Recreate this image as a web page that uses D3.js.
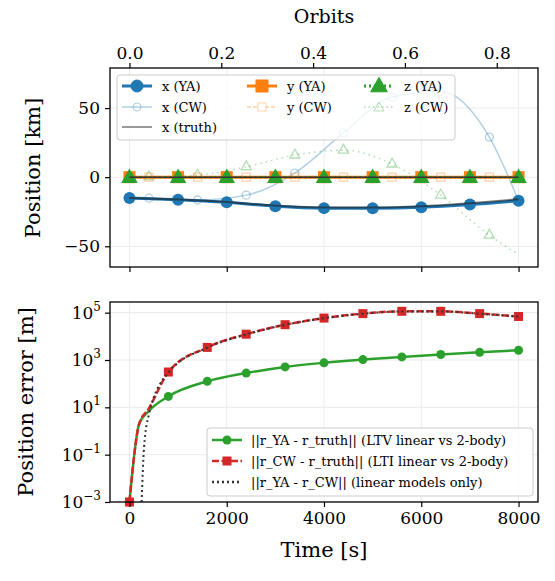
<!DOCTYPE html><html><head><meta charset="utf-8">
<script src="https://cdn.jsdelivr.net/npm/d3@7"></script>
<style>body{margin:0;background:#fff}text{font-family:"DejaVu Serif",serif}</style></head><body>
<svg id="c" width="555" height="581"></svg>
<script>
// --- data ---
const tYA = [0,1000,2000,3000,4000,5000,6000,7000,8000];
const xYA = [-15,-16.3,-18.2,-21,-22.4,-22.5,-21.8,-19.8,-17];
const xTruth = [-15,-16.2,-18,-20.6,-22,-22,-21,-18.8,-16];
const tCWline = [0,400,1400,2400,3400,4400,5400,6400,7400,8000];
const xCWline = [-15,-15.2,-16.5,-13,3,32,58,62,29,-17];
const zCWline = [0,0.3,1.5,7.5,16,19.5,9.5,-13,-42,-56];
const tCWmark = [400,1400,2400,3400,4400,5400,6400,7400];
const xCW = [-15.2,-16.5,-13,3,32,58,62,29];
const zCW = [0.3,1.5,7.5,16,19.5,9.5,-13,-42];
const tErr = [0,200,400,800,1600,2400,3200,4000,4800,5600,6400,7200,8000];
const errYA = [1e-3,2,7,29,125,280,510,760,1040,1350,1700,2100,2570];
const errCW = [1e-3,2,9,310,3400,12300,31000,59000,91000,114000,114000,91000,69000];
const tDiff = [250,300,400,800,1600,2400,3200,4000,4800,5600,6400,7200,8000];
const errDiff = [1e-3,0.2,5,290,3300,12000,30500,58000,90000,113000,113000,90000,68000];
const orbitTicks = [0,0.2,0.4,0.6,0.8];
const period = 9440;

const svg = d3.select("#c");
const L=110,R=538;
const x = d3.scaleLinear().domain([-400,8400]).range([L,R]);
const y1 = d3.scaleLinear().domain([-65,79]).range([267,68]);
const y2 = d3.scaleLog().domain([1e-3,10**5.45]).range([502,302]);

function grid(y,ticks,y0,y9){
  const g=svg.append("g");
  [0,2000,4000,6000,8000].forEach(t=>g.append("line").attr("x1",x(t)).attr("x2",x(t)).attr("y1",y0).attr("y2",y9).attr("stroke","#ebebeb"));
  ticks.forEach(v=>g.append("line").attr("x1",L).attr("x2",R).attr("y1",y(v)).attr("y2",y(v)).attr("stroke","#ebebeb"));
}
grid(y1,[-50,0,50],68,267);
grid(y2,[1e-3,1e-1,10,1e3,1e5],302,502);

const c = {b:"#1f77b4",o:"#ff7f0e",g:"#2ca02c",r:"#d62728"};
const line=(ys,ts,ysc)=>d3.line().x((d,i)=>x(ts[i])).y(d=>ysc(d)).curve(d3.curveMonotoneX)(ys);

// top chart
const gt=svg.append("g");
gt.append("path").attr("d",line(xCWline,tCWline,y1)).attr("fill","none").attr("stroke",c.b).attr("stroke-opacity",0.35).attr("stroke-width",1.5);
tCWmark.forEach((t,i)=>gt.append("circle").attr("cx",x(t)).attr("cy",y1(xCW[i])).attr("r",4).attr("fill","none").attr("stroke",c.b).attr("stroke-opacity",0.35).attr("stroke-width",1.3));
gt.append("path").attr("d",line(zCWline,tCWline,y1)).attr("fill","none").attr("stroke",c.g).attr("stroke-opacity",0.35).attr("stroke-width",1.5).attr("stroke-dasharray","1.5,4");
tCWmark.forEach((t,i)=>gt.append("path").attr("d",d3.symbol().type(d3.symbolTriangle).size(45)()).attr("transform",`translate(${x(t)},${y1(zCW[i])})`).attr("fill","none").attr("stroke",c.g).attr("stroke-opacity",0.35).attr("stroke-width",1.3));
gt.append("line").attr("x1",x(0)).attr("x2",x(8000)).attr("y1",y1(0)).attr("y2",y1(0)).attr("stroke",c.o).attr("stroke-opacity",0.35).attr("stroke-dasharray","5,3").attr("stroke-width",1.5);
tCWmark.forEach(t=>gt.append("rect").attr("x",x(t)-4).attr("y",y1(0)-4).attr("width",8).attr("height",8).attr("fill","none").attr("stroke",c.o).attr("stroke-opacity",0.35).attr("stroke-width",1.3));
gt.append("path").attr("d",line(xYA,tYA,y1)).attr("fill","none").attr("stroke",c.b).attr("stroke-width",3);
tYA.forEach((t,i)=>gt.append("circle").attr("cx",x(t)).attr("cy",y1(xYA[i])).attr("r",6).attr("fill",c.b));
gt.append("line").attr("x1",x(0)).attr("x2",x(8000)).attr("y1",y1(0)).attr("y2",y1(0)).attr("stroke",c.o).attr("stroke-width",3);
tYA.forEach(t=>gt.append("rect").attr("x",x(t)-6).attr("y",y1(0)-6).attr("width",12).attr("height",12).attr("fill",c.o));
gt.append("line").attr("x1",x(0)).attr("x2",x(8000)).attr("y1",y1(0)).attr("y2",y1(0)).attr("stroke",c.g).attr("stroke-width",2).attr("stroke-dasharray","2,3");
tYA.forEach(t=>gt.append("path").attr("d",d3.symbol().type(d3.symbolTriangle).size(120)()).attr("transform",`translate(${x(t)},${y1(0)+1})`).attr("fill",c.g));
gt.append("path").attr("d",line(xTruth,tYA,y1)).attr("fill","none").attr("stroke","#222").attr("stroke-opacity",0.6).attr("stroke-width",2);
gt.append("line").attr("x1",x(0)).attr("x2",x(8000)).attr("y1",y1(0)).attr("y2",y1(0)).attr("stroke","#333").attr("stroke-width",1.5);

// bottom chart
const gb=svg.append("g");
gb.append("path").attr("d",line(errYA,tErr,y2)).attr("fill","none").attr("stroke",c.g).attr("stroke-width",2.5);
tErr.forEach((t,i)=>{if(t%800===0)gb.append("circle").attr("cx",x(t)).attr("cy",y2(errYA[i])).attr("r",4.5).attr("fill",c.g);});
gb.append("path").attr("d",line(errCW,tErr,y2)).attr("fill","none").attr("stroke",c.r).attr("stroke-width",2.5).attr("stroke-dasharray","7,2.5");
tErr.forEach((t,i)=>{if(t%800===0)gb.append("rect").attr("x",x(t)-4.5).attr("y",y2(errCW[i])-4.5).attr("width",9).attr("height",9).attr("fill",c.r);});
gb.append("path").attr("d",line(errDiff,tDiff,y2)).attr("fill","none").attr("stroke","#333").attr("stroke-width",2).attr("stroke-dasharray","2,3");

// axes
function frame(a,b){svg.append("rect").attr("x",L).attr("y",a).attr("width",R-L).attr("height",b-a).attr("fill","none").attr("stroke","#000").attr("stroke-width",1.3);}
frame(68,267);frame(302,502);
const fs="17px";
const ax1=svg.append("g").attr("transform",`translate(${L},0)`).call(d3.axisLeft(y1).tickValues([-50,0,50]).tickFormat(d3.format("d")).tickSize(5).tickPadding(5));
const ax1b=svg.append("g").attr("transform",`translate(0,267)`).call(d3.axisBottom(x).tickValues([0,2000,4000,6000,8000]).tickFormat("").tickSize(5));
const orb=d3.scaleLinear().domain([-400/period,8400/period]).range([L,R]);
const axo=svg.append("g").attr("transform",`translate(0,68)`).call(d3.axisTop(orb).tickValues(orbitTicks).tickFormat(d3.format(".1f")).tickSize(5).tickPadding(4));
const ax2=svg.append("g").attr("transform",`translate(${L},0)`).call(d3.axisLeft(y2).tickValues([1e-3,1e-1,10,1e3,1e5]).tickFormat("").tickSize(5));
[1e-3,1e-1,10,1e3,1e5].forEach(v=>{const e=Math.round(Math.log10(v));
  const t=svg.append("text").attr("x",L-9).attr("y",y2(v)+6).attr("text-anchor","end").attr("font-size",fs);
  t.append("tspan").text("10");t.append("tspan").attr("dy",-8).attr("font-size","12px").text(e<0?"−"+(-e):e);});
const ax2b=svg.append("g").attr("transform",`translate(0,502)`).call(d3.axisBottom(x).tickValues([0,2000,4000,6000,8000]).tickFormat(d3.format("d")).tickSize(5).tickPadding(5));
[ax1,ax1b,axo,ax2,ax2b].forEach(a=>{a.select(".domain").remove();a.selectAll("text").attr("font-size",fs).attr("font-family","DejaVu Serif").attr("fill","#000");a.selectAll("line").attr("stroke-width",1.2);});
ax1.selectAll("text").text(d=>d<0?"−"+(-d):d);

svg.append("text").attr("x",L+(R-L)/2).attr("y",23).attr("text-anchor","middle").attr("font-size","19px").text("Orbits");
svg.append("text").attr("x",L+(R-L)/2).attr("y",557).attr("text-anchor","middle").attr("font-size","21px").text("Time [s]");
svg.append("text").attr("transform","translate(40,168) rotate(-90)").attr("text-anchor","middle").attr("font-size","21px").text("Position [km]");
svg.append("text").attr("transform","translate(33,402) rotate(-90)").attr("text-anchor","middle").attr("font-size","21px").text("Position error [m]");

// legends
const lg=svg.append("g");
lg.append("rect").attr("x",117).attr("y",75).attr("width",338).attr("height",65).attr("rx",3).attr("fill","#fff").attr("fill-opacity",0.8).attr("stroke","#ccc");
const items=[
 [122,86,"x (YA)",c.b,1,"circle",true,null],
 [122,107,"x (CW)",c.b,0.35,"circle",false,null],
 [122,127,"x (truth)","#555",0.8,null,false,null],
 [247,86,"y (YA)",c.o,1,"rect",true,null],
 [247,107,"y (CW)",c.o,0.35,"rect",false,"4,2"],
 [364,86,"z (YA)",c.g,1,"tri",true,"2,3"],
 [364,107,"z (CW)",c.g,0.35,"tri",false,"1.5,3"]];
items.forEach(([lx,ly,lab,col,op,m,fill,dash])=>{
  lg.append("line").attr("x1",lx).attr("x2",lx+30).attr("y1",ly).attr("y2",ly).attr("stroke",col).attr("stroke-opacity",op).attr("stroke-width",fill?3:1.5).attr("stroke-dasharray",dash);
  const cx=lx+15;
  if(m==="circle")lg.append("circle").attr("cx",cx).attr("cy",ly).attr("r",fill?6:4).attr("fill",fill?col:"none").attr("stroke",col).attr("stroke-opacity",op);
  if(m==="rect"){const s=fill?12:8;lg.append("rect").attr("x",cx-s/2).attr("y",ly-s/2).attr("width",s).attr("height",s).attr("fill",fill?col:"#fff").attr("stroke",col).attr("stroke-opacity",op);}
  if(m==="tri")lg.append("path").attr("d",d3.symbol().type(d3.symbolTriangle).size(fill?120:45)()).attr("transform",`translate(${cx},${ly+1})`).attr("fill",fill?col:"none").attr("stroke",col).attr("stroke-opacity",op);
  lg.append("text").attr("x",lx+40).attr("y",ly+5).attr("font-size","13px").text(lab);
});
const lg2=svg.append("g");
lg2.append("rect").attr("x",207).attr("y",428).attr("width",326).attr("height",68).attr("rx",3).attr("fill","#fff").attr("fill-opacity",0.85).attr("stroke","#ccc");
[[440,c.g,"circle",null,"||r_YA - r_truth|| (LTV linear vs 2-body)"],
 [461,c.r,"rect","7,2.5","||r_CW - r_truth|| (LTI linear vs 2-body)"],
 [482,"#333",null,"2,3","||r_YA - r_CW|| (linear models only)"]].forEach(([ly,col,m,dash,lab])=>{
  lg2.append("line").attr("x1",212).attr("x2",242).attr("y1",ly).attr("y2",ly).attr("stroke",col).attr("stroke-width",2.5).attr("stroke-dasharray",dash);
  if(m==="circle")lg2.append("circle").attr("cx",227).attr("cy",ly).attr("r",4.5).attr("fill",col);
  if(m==="rect")lg2.append("rect").attr("x",222.5).attr("y",ly-4.5).attr("width",9).attr("height",9).attr("fill",col);
  lg2.append("text").attr("x",251).attr("y",ly+5).attr("font-size","13px").text(lab);
});
</script></body></html>
